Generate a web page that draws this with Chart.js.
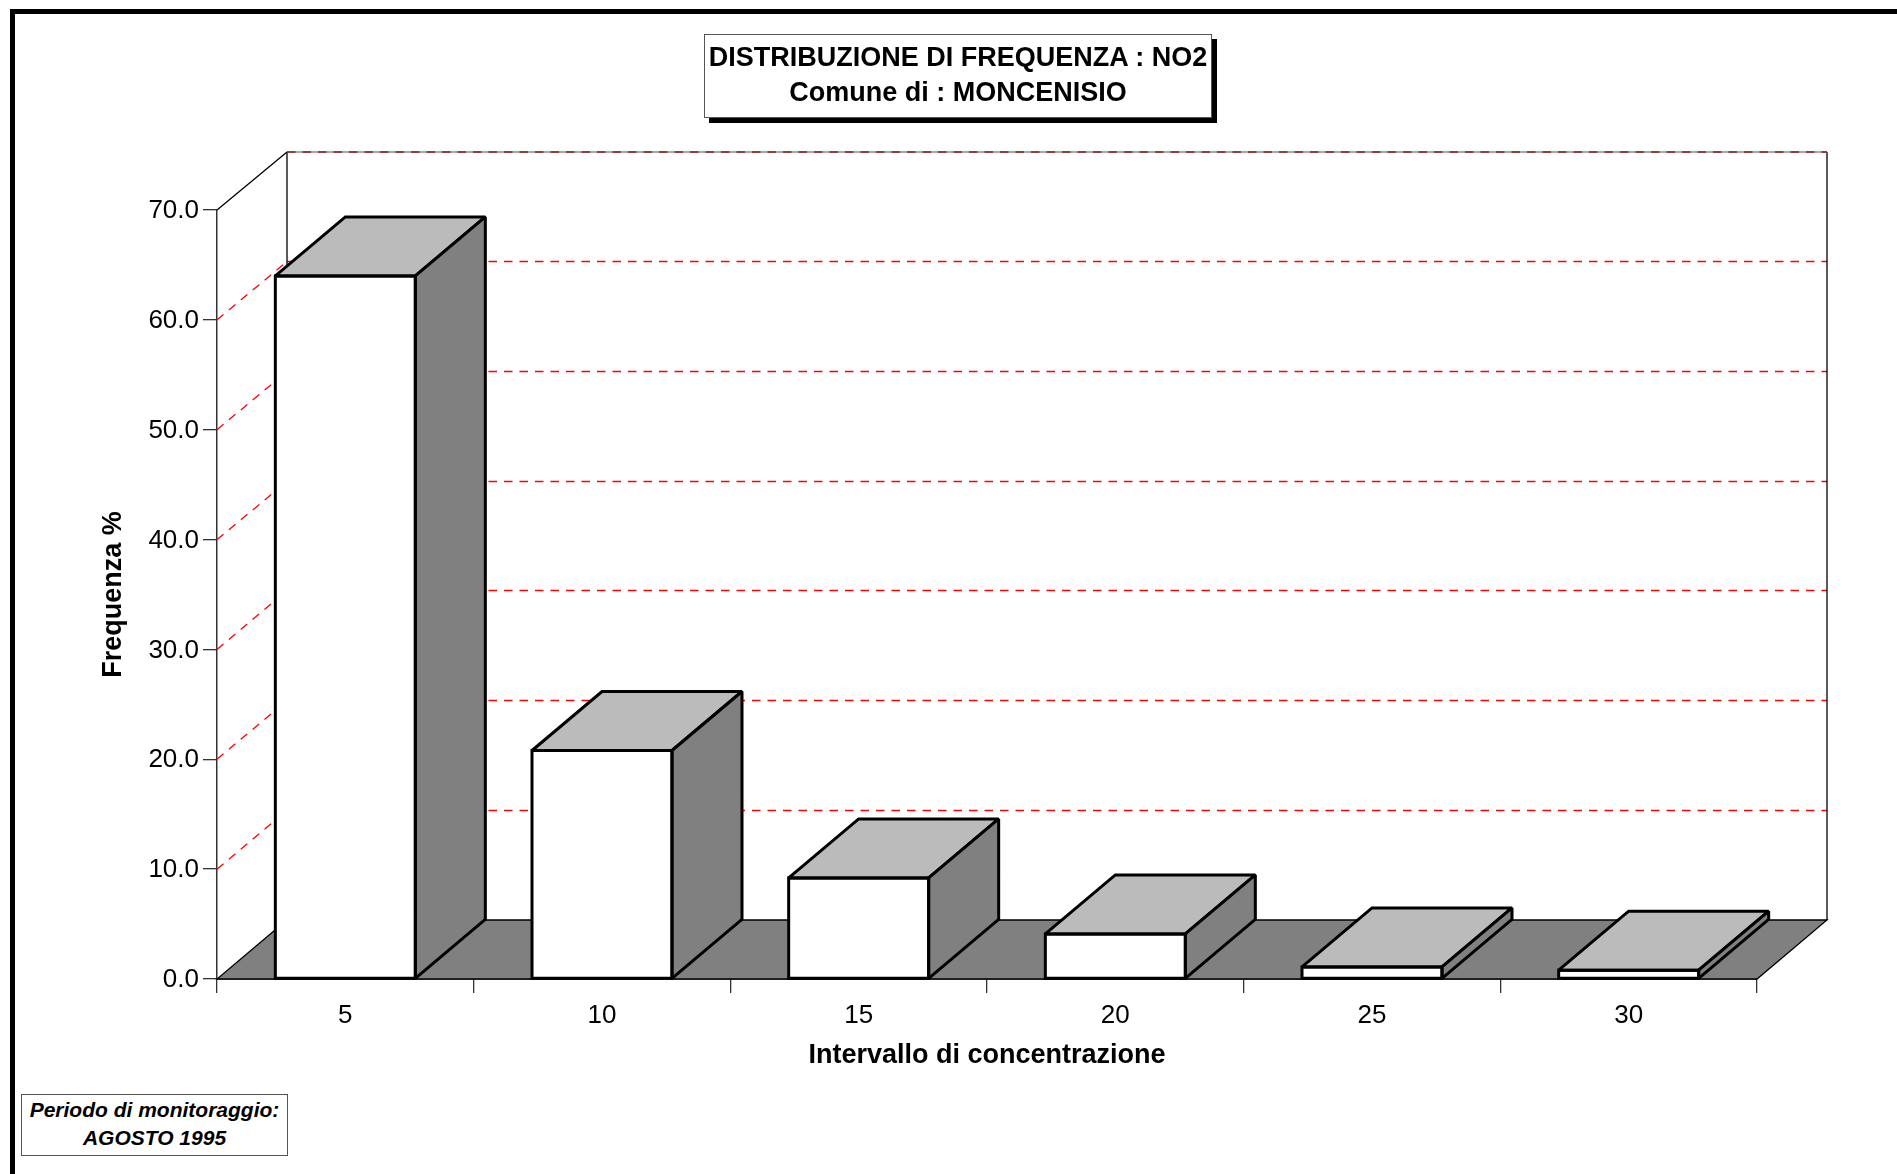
<!DOCTYPE html>
<html>
<head>
<meta charset="utf-8">
<title>Distribuzione di frequenza NO2</title>
<script src="https://cdn.jsdelivr.net/npm/chart.js@4"></script>
<style>
  html, body { margin: 0; padding: 0; background: #fff; overflow: hidden; }
  #frame { position: absolute; left: 10px; top: 9px; width: 2000px; height: 2000px;
           border-left: 5px solid #000; border-top: 5px solid #000; }
  canvas { position: absolute; left: 0; top: 0; }
  .box { position: absolute; box-sizing: border-box; background: #fff; color: #000; text-align: center;
         font-family: "Liberation Sans", Arial, sans-serif; font-weight: bold; white-space: nowrap; }
  #titleBox { left: 704px; top: 34px; width: 508px; height: 84px; border: 1px solid #555;
              box-shadow: 5px 5px 0 #000; font-size: 27px; line-height: 35px; padding-top: 5px; }
  #noteBox { left: 21px; top: 1094px; width: 267px; height: 62px; border: 1px solid #555;
             font-style: italic; font-size: 21px; line-height: 28px; padding-top: 1px; }
</style>
</head>
<body>
<div id="frame"></div>
<canvas id="freq-chart" width="1897" height="1174"></canvas>
<div class="box" id="titleBox">DISTRIBUZIONE DI FREQUENZA : NO2<br>Comune di : MONCENISIO</div>
<div class="box" id="noteBox">Periodo di monitoraggio:<br>AGOSTO 1995</div>
<script>
const intervals = ['5', '10', '15', '20', '25', '30'];
const frequency = [64.0, 20.8, 9.2, 4.1, 1.1, 0.8];
const freqMin = 0;
const freqMax = 70;
const freqStep = 10;

const fontFamily = '"Liberation Sans", Arial, sans-serif';
const depthX = 70;
const depthY = 59;
const wallDepthY = 58;

const polygon = (ctx, pts, fill, stroke, width) => {
  ctx.beginPath();
  pts.forEach((p, i) => i ? ctx.lineTo(p[0], p[1]) : ctx.moveTo(p[0], p[1]));
  ctx.closePath();
  if (fill) { ctx.fillStyle = fill; ctx.fill(); }
  if (stroke) { ctx.strokeStyle = stroke; ctx.lineWidth = width; ctx.stroke(); }
};

const segment = (ctx, x1, y1, x2, y2) => {
  ctx.beginPath();
  ctx.moveTo(x1, y1);
  ctx.lineTo(x2, y2);
  ctx.stroke();
};

// back wall, side wall gridlines and floor, all behind the bars
const room = {
  id: 'room',
  beforeDatasetsDraw(chart) {
    const { ctx, chartArea: { left, right, bottom }, scales: { y } } = chart;
    const top = y.getPixelForValue(freqMax);
    const backLeft = left + depthX;
    const backRight = right + depthX;
    const backTop = top - wallDepthY;
    ctx.save();
    ctx.lineWidth = 1.3;

    ctx.strokeStyle = '#ff0000';
    ctx.setLineDash([8.5, 7]);
    for (let v = freqMin + freqStep; v < freqMax; v += freqStep) {
      const py = y.getPixelForValue(v);
      const backY = Math.round(py - depthY) + 0.5;
      segment(ctx, left, py, backLeft, backY);
      segment(ctx, backLeft, backY, backRight, backY);
    }
    ctx.setLineDash([]);

    ctx.strokeStyle = '#000';
    segment(ctx, left, top, backLeft, backTop);
    segment(ctx, backLeft, backTop, backLeft, bottom - depthY);
    segment(ctx, backRight, backTop, backRight, bottom - depthY);

    // top edge: the gridline at the maximum sits on the wall line
    ctx.strokeStyle = '#8c8c8c';
    segment(ctx, backLeft, backTop, backRight, backTop);
    ctx.strokeStyle = '#8b1a1a';
    ctx.setLineDash([8.5, 7]);
    segment(ctx, backLeft, backTop, backRight, backTop);
    ctx.setLineDash([]);

    polygon(ctx, [[left, bottom], [right, bottom], [backRight, bottom - depthY], [backLeft, bottom - depthY]],
      '#808080', '#000', 1.3);
    ctx.restore();
  },
  // extruded faces come from the bar elements the library laid out
  afterDatasetsDraw(chart) {
    const { ctx } = chart;
    ctx.save();
    ctx.lineJoin = 'miter';
    ctx.miterLimit = 2;
    chart.getDatasetMeta(0).data.forEach(bar => {
      const { x, y, base, width } = bar.getProps(['x', 'y', 'base', 'width'], true);
      const l = x - width / 2;
      const r = x + width / 2;
      polygon(ctx, [[l, y], [r, y], [r + depthX, y - depthY], [l + depthX, y - depthY]], '#bbbbbb', '#000', 3);
      polygon(ctx, [[r, y], [r + depthX, y - depthY], [r + depthX, base - depthY], [r, base]], '#808080', '#000', 3);
      polygon(ctx, [[l, y], [r, y], [r, base], [l, base]], null, '#000', 3);
    });
    ctx.restore();
  }
};

new Chart(document.getElementById('freq-chart').getContext('2d'), {
  type: 'bar',
  data: {
    labels: intervals,
    datasets: [{
      data: frequency,
      backgroundColor: '#fff',
      borderWidth: 0,
      barThickness: 140
    }]
  },
  options: {
    responsive: false,
    animation: false,
    layout: { padding: { top: 210, right: 140, left: 0, bottom: 0 } },
    plugins: { legend: { display: false }, title: { display: false }, tooltip: { enabled: false } },
    scales: {
      x: {
        afterFit: scale => { scale.height = 195; },
        border: { color: '#000', width: 1.5 },
        grid: { drawOnChartArea: false, tickLength: 14, color: '#333', lineWidth: 1.3 },
        ticks: { color: '#000', font: { family: fontFamily, size: 26 }, padding: 7, maxRotation: 0 },
        title: {
          display: true,
          text: 'Intervallo di concentrazione',
          color: '#000',
          font: { family: fontFamily, size: 27, weight: 'bold' },
          padding: { top: 0, bottom: 102 }
        }
      },
      y: {
        min: freqMin,
        max: freqMax,
        afterFit: scale => { scale.width = 217; },
        border: { color: '#333', width: 1.5 },
        grid: { drawOnChartArea: false, tickLength: 14, color: '#333', lineWidth: 1.3 },
        ticks: {
          stepSize: freqStep,
          color: '#000',
          font: { family: fontFamily, size: 26 },
          padding: 4,
          labelOffset: 1,
          callback: v => v.toFixed(1)
        },
        title: {
          display: true,
          text: 'Frequenza %',
          color: '#000',
          font: { family: fontFamily, size: 27, weight: 'bold' },
          padding: { top: 97, bottom: 0 }
        }
      }
    }
  },
  plugins: [room]
});
</script>
</body>
</html>
